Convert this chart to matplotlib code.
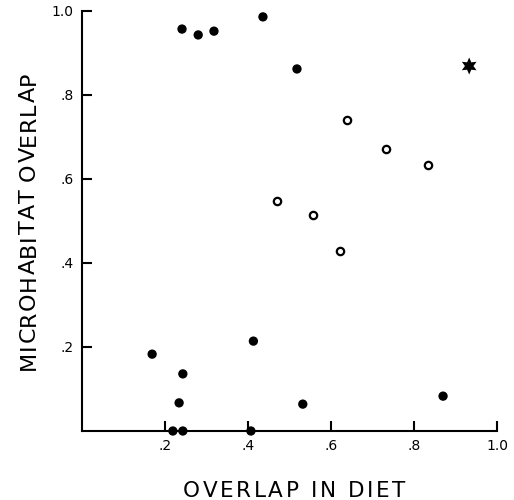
import matplotlib
matplotlib.use("Agg")
import matplotlib.pyplot as plt
from matplotlib import font_manager
from matplotlib.ft2font import FT2Font

# Filled dots
filled_x = [0.241, 0.280, 0.318, 0.436, 0.518, 0.169, 0.243, 0.234, 0.219, 0.243, 0.407, 0.413, 0.532, 0.870]
filled_y = [0.957, 0.943, 0.952, 0.986, 0.862, 0.183, 0.136, 0.067, 0.0, 0.0, 0.0, 0.214, 0.064, 0.083]
# Open circles
open_x = [0.638, 0.733, 0.834, 0.469, 0.556, 0.622]
open_y = [0.741, 0.671, 0.634, 0.547, 0.514, 0.428]
# Star
star_x = [0.933]
star_y = [0.869]

xticks = [0.2, 0.4, 0.6, 0.8, 1.0]
xticklabels = [".2", ".4", ".6", ".8", "1.0"]
yticks = [0.2, 0.4, 0.6, 0.8, 1.0]
yticklabels = [".2", ".4", ".6", ".8", "1.0"]

x_label = "OVERLAP IN DIET"
y_label = "MICROHABITAT OVERLAP"

plt.rcParams['font.family'] = ['DejaVu Sans']

W, H, DPI = 514, 500, 100
fig = plt.figure(figsize=(W / DPI, H / DPI), dpi=DPI)
ax = fig.add_axes([82/W, 69/H, 415/W, 420/H])
ax.set_xlim(0, 1)
ax.set_ylim(0, 1)

ax.scatter(filled_x, filled_y, s=45, c='black', edgecolors='none', clip_on=False, zorder=3)
ax.scatter(open_x, open_y, s=28, facecolors='white', edgecolors='black', linewidths=1.6, clip_on=False, zorder=3)
ax.scatter(star_x, star_y, s=150, c='black', marker=(6, 1, 0), edgecolors='none', clip_on=False, zorder=3)

for s in ['top', 'right']:
    ax.spines[s].set_visible(False)
for s in ['left', 'bottom']:
    ax.spines[s].set_linewidth(1.5)
    ax.spines[s].set_color('black')

ax.set_xticks(xticks)
ax.set_xticklabels(xticklabels)
ax.set_yticks(yticks)
ax.set_yticklabels(yticklabels)
ax.tick_params(direction='in', length=7, width=1.5, labelsize=10, pad=6)

# Letter-spaced axis titles
font_path = font_manager.findfont(font_manager.FontProperties(family='DejaVu Sans'))


def advances(text, size):
    f = FT2Font(font_path)
    f.set_size(size, DPI)
    return [f.load_char(ord(c)).linearHoriAdvance / 65536.0 for c in text]


def tracked_text(text, size, start_px, base_px, length_px, vertical=False):
    adv = advances(text, size)
    natural = sum(adv)
    track = (length_px - natural) / (len(text) - 1)
    pos = 0.0
    for c, a in zip(text, adv):
        if vertical:
            x, y = base_px, start_px - pos
            fig.text(x / W, 1 - y / H, c, fontsize=size, rotation=90,
                     rotation_mode='anchor', ha='left', va='baseline')
        else:
            x, y = start_px + pos, base_px
            fig.text(x / W, 1 - y / H, c, fontsize=size,
                     ha='left', va='baseline')
        pos += a + track


tracked_text(x_label, 15.5, 183, 497, 222)
tracked_text(y_label, 16, 370, 35, 298, vertical=True)

fig.savefig("out.png", dpi=DPI)
